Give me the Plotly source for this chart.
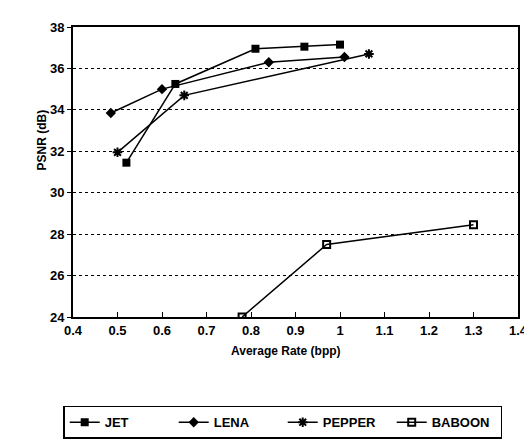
import plotly.graph_objects as go

# data
jet_rate = [0.52, 0.63, 0.81, 0.92, 1.00]
jet_psnr = [31.45, 35.25, 36.95, 37.05, 37.15]

lena_rate = [0.485, 0.60, 0.84, 1.01]
lena_psnr = [33.85, 35.0, 36.3, 36.55]

pepper_rate = [0.50, 0.65, 1.065]
pepper_psnr = [31.95, 34.7, 36.7]

baboon_rate = [0.78, 0.97, 1.30]
baboon_psnr = [24.0, 27.5, 28.45]

x_ticks = [0.4, 0.5, 0.6, 0.7, 0.8, 0.9, 1.0, 1.1, 1.2, 1.3, 1.4]
x_labels = ["0.4", "0.5", "0.6", "0.7", "0.8", "0.9", "1", "1.1", "1.2", "1.3", "1.4"]
y_ticks = [24, 26, 28, 30, 32, 34, 36, 38]

FONT = "Liberation Sans"

series = [
    ("JET", jet_rate, jet_psnr, {"symbol": "square", "size": 8}),
    ("LENA", lena_rate, lena_psnr, {"symbol": "diamond", "size": 8}),
    ("PEPPER", pepper_rate, pepper_psnr,
     {"symbol": "asterisk-open", "size": 8, "line": {"width": 2, "color": "black"}}),
    ("BABOON", baboon_rate, baboon_psnr,
     {"symbol": "square-open", "size": 7, "line": {"width": 2, "color": "black"}}),
]

fig = go.Figure()
for name, xs, ys, marker in series:
    fig.add_trace(
        go.Scatter(
            x=xs,
            y=ys,
            name=name,
            mode="lines+markers",
            line={"color": "black", "width": 1.5},
            marker={"color": "black", **marker},
        )
    )

fig.update_layout(
    width=532,
    height=442,
    margin={"l": 65, "r": 17, "t": 13, "b": 125},
    plot_bgcolor="white",
    paper_bgcolor="white",
    font={"family": FONT, "size": 13, "color": "black", "weight": "bold"},
    xaxis={
        "range": [0.4, 1.4],
        "tickvals": x_ticks,
        "ticktext": x_labels,
        "ticks": "inside",
        "ticklen": 5,
        "tickcolor": "black",
        "showgrid": False,
        "zeroline": False,
        "showline": True,
        "linecolor": "black",
        "linewidth": 2,
        "mirror": True,
    },
    yaxis={
        "range": [24, 38],
        "tickvals": y_ticks,
        "ticks": "outside",
        "ticklen": 4,
        "tickcolor": "black",
        "showgrid": True,
        "gridcolor": "black",
        "griddash": "dot",
        "gridwidth": 1,
        "zeroline": False,
        "showline": True,
        "linecolor": "black",
        "linewidth": 2,
        "mirror": True,
    },
    showlegend=True,
    legend={
        "orientation": "h",
        "x": -0.022,
        "xanchor": "left",
        "y": -0.306,
        "yanchor": "top",
        "bordercolor": "black",
        "borderwidth": 1.5,
        "itemwidth": 30,
        "entrywidth": 64,
        "entrywidthmode": "pixels",
        "font": {"family": FONT, "size": 13, "weight": "bold"},
    },
    annotations=[
        {
            "text": "PSNR (dB)",
            "xref": "paper",
            "yref": "paper",
            "x": -0.089,
            "y": 0.61,
            "textangle": -90,
            "showarrow": False,
            "font": {"size": 12},
        },
        {
            "text": "Average Rate (bpp)",
            "xref": "paper",
            "yref": "paper",
            "x": 0.478,
            "y": -0.118,
            "yanchor": "middle",
            "showarrow": False,
            "font": {"size": 12},
        },
    ],
)

fig.write_html("out.html")
